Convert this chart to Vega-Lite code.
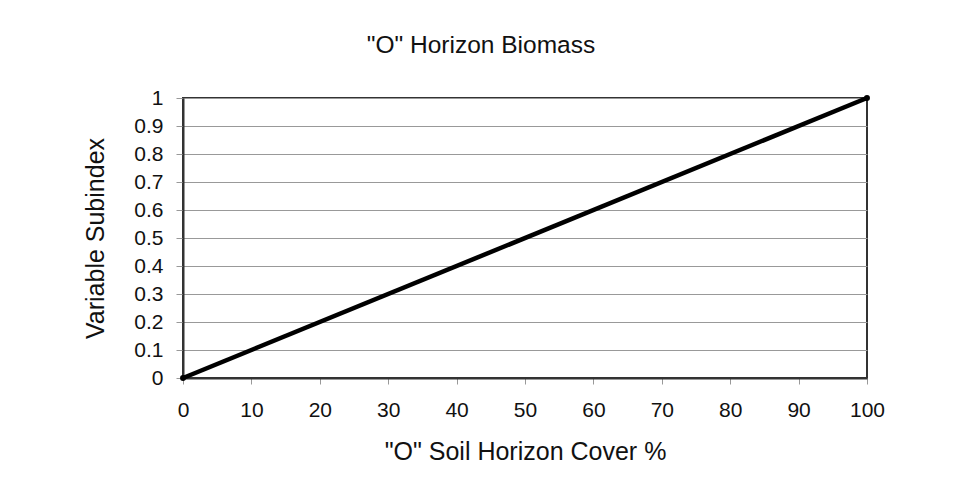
{
  "$schema": "https://vega.github.io/schema/vega-lite/v6.json",
  "width": 684,
  "height": 280,
  "autosize": {"type": "none"},
  "padding": {"left": 183, "top": 98, "right": 87, "bottom": 111},
  "background": "white",
  "title": {
    "text": "\"O\" Horizon Biomass",
    "font": "Liberation Sans",
    "fontSize": 24.5,
    "fontWeight": "normal",
    "color": "#111",
    "anchor": "middle",
    "offset": 29,
    "dx": -44
  },
  "data": {"values": [
    {"cover": 0, "subindex": 0},
    {"cover": 100, "subindex": 1}
  ]},
  "layer": [
    {
      "mark": {"type": "line", "color": "black", "strokeWidth": 4.5, "clip": false},
      "encoding": {
        "x": {"field": "cover", "type": "quantitative"},
        "y": {"field": "subindex", "type": "quantitative"}
      }
    },
    {
      "mark": {"type": "point", "filled": true, "color": "black", "size": 35, "opacity": 1, "clip": false},
      "encoding": {
        "x": {"field": "cover", "type": "quantitative"},
        "y": {"field": "subindex", "type": "quantitative"}
      }
    }
  ],
  "encoding": {
    "x": {
      "field": "cover",
      "type": "quantitative",
      "scale": {"domain": [0, 100], "nice": false, "zero": true},
      "axis": {
        "title": "\"O\" Soil Horizon Cover %",
        "values": [0, 10, 20, 30, 40, 50, 60, 70, 80, 90, 100],
        "grid": false,
        "labelFlush": false,
        "labelOverlap": false,
        "tickSize": 6,
        "tickColor": "#999",
        "domainColor": "#333",
        "domainWidth": 2,
        "labelPadding": 15,
        "labelFontSize": 21,
        "titleFontSize": 25,
        "titlePadding": 19
      }
    },
    "y": {
      "field": "subindex",
      "type": "quantitative",
      "scale": {"domain": [0, 1], "nice": false},
      "axis": {
        "title": "Variable Subindex",
        "values": [0, 0.1, 0.2, 0.3, 0.4, 0.5, 0.6, 0.7, 0.8, 0.9, 1],
        "format": "~g",
        "grid": true,
        "labelFlush": false,
        "labelOverlap": false,
        "gridColor": "#999",
        "gridWidth": 1,
        "tickSize": 7,
        "tickColor": "#999",
        "domainColor": "#333",
        "domainWidth": 2,
        "labelPadding": 13,
        "labelFontSize": 21,
        "titleFontSize": 25,
        "titleX": -80,
        "titleBaseline": "alphabetic"
      }
    }
  },
  "config": {
    "font": "Liberation Sans",
    "view": {"stroke": "#333", "strokeWidth": 2},
    "axis": {
      "labelColor": "#111",
      "titleColor": "#111",
      "labelFont": "Liberation Sans",
      "titleFont": "Liberation Sans",
      "titleFontWeight": "normal"
    }
  }
}
